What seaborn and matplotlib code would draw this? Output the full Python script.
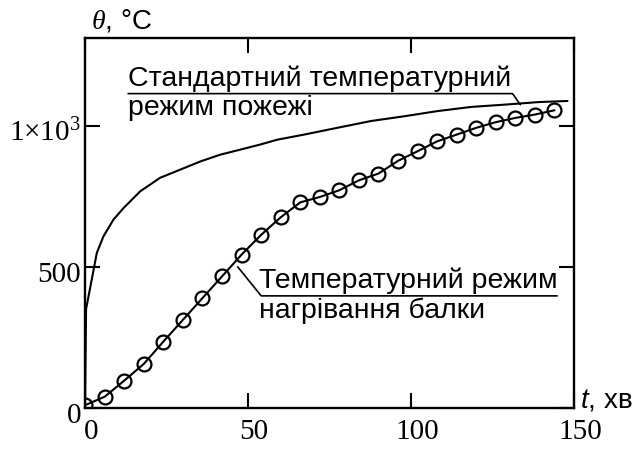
import numpy as np
import pandas as pd
import matplotlib
matplotlib.use("Agg")
import matplotlib.pyplot as plt
import matplotlib.transforms as mtransforms
import seaborn as sns

# standard fire curve
t_std = [0, 0.3, 3.6, 5.6, 8.7, 11.8, 16.9, 23, 29.2, 35.4, 41.5, 47.7,
         53.8, 59, 67.2, 77.4, 87.7, 98, 108, 118.5, 128.7, 139, 148]
theta_std = [20, 350, 549, 607, 667, 708, 767, 815, 844, 873, 897, 915,
             933, 950, 968, 992, 1016, 1033, 1051, 1066, 1074, 1083, 1087]

# beam heating curve (circles)
t_beam = [0, 6, 12, 18, 24, 30, 36, 42, 48, 54, 60, 66, 72, 78, 84, 90,
          96, 102, 108, 114, 120, 126, 132, 138, 144]
theta_beam = [10, 40, 97, 156, 235, 312, 389, 466, 543, 613, 675, 728, 747,
              771, 806, 830, 875, 909, 944, 968, 992, 1012, 1027, 1039, 1054]

x_ticks = [0, 50, 100, 150]
y_ticks = [0, 500, 1000]
y_ticklabels = ["0", "500", "1×10$^3$"]

label_std = "Стандартний температурний\nрежим пожежі"
label_beam = "Температурний режим\nнагрівання балки"

sns.set_theme(style="ticks")
plt.rcParams["font.family"] = ["Liberation Sans", "DejaVu Sans"]
plt.rcParams["text.color"] = "black"
plt.rcParams["mathtext.fontset"] = "custom"
plt.rcParams["mathtext.rm"] = "Liberation Serif"
plt.rcParams["mathtext.it"] = "Liberation Serif:italic"
plt.rcParams["mathtext.sf"] = "Liberation Sans:italic"

df_std = pd.DataFrame({"t": t_std, "theta": theta_std})
df_beam = pd.DataFrame({"t": t_beam, "theta": theta_beam})

fig = plt.figure(figsize=(6.35, 4.5), dpi=100)
ax = fig.add_axes([0.134, 0.0933, 0.770, 0.8223])

sns.lineplot(data=df_std, x="t", y="theta", ax=ax, color="black", lw=1.5,
             estimator=None, sort=False)
sns.lineplot(data=df_beam, x="t", y="theta", ax=ax, color="black", lw=1.5,
             marker="o", markersize=10, markerfacecolor="none",
             markeredgecolor="black", markeredgewidth=1.6,
             estimator=None, sort=False)

ax.set_xlim(0, 150)
ax.set_ylim(0, 1310)
ax.set_xlabel("")
ax.set_ylabel("")

ax.set_xticks(x_ticks)
ax.set_xticklabels([str(v) for v in x_ticks], fontfamily="Liberation Serif", fontsize=21)
ax.set_yticks(y_ticks)
ax.set_yticklabels(y_ticklabels, fontfamily="Liberation Serif", fontsize=21)
ax.tick_params(direction="in", length=11, width=1.5, top=True, right=True,
               color="black", labelcolor="black")
ax.tick_params(axis="x", pad=8)
ax.tick_params(axis="y", pad=3)

# nudge tick labels like in the original
for lab in ax.get_xticklabels():
    lab.set_transform(lab.get_transform() +
                      mtransforms.ScaledTranslation(6 / 100, 0, fig.dpi_scale_trans))
for lab in ax.get_yticklabels():
    lab.set_transform(lab.get_transform() +
                      mtransforms.ScaledTranslation(0, -5 / 100, fig.dpi_scale_trans))

for sp in ax.spines.values():
    sp.set_linewidth(1.7)
    sp.set_color("black")

# axis titles
ax.text(0.012, 1.045, r"$\theta$, °C", transform=ax.transAxes, fontsize=20,
        ha="left", va="center", color="black")
ax.text(1.013, 0.02, r"$\mathsf{t}$, хв", transform=ax.transAxes, fontsize=20,
        ha="left", va="center", color="black")

# callouts
ax.annotate(label_std, xy=(133.5, 1074), xytext=(13.2, 1113), textcoords="data",
            fontsize=20.5, ha="left", va="center", linespacing=1.15, color="black",
            arrowprops=dict(arrowstyle="-", color="black", lw=1.2, patchA=None,
                            shrinkA=0, shrinkB=0, relpos=(0, 0.5),
                            connectionstyle="angle,angleA=0,angleB=125,rad=0"))
ax.annotate(label_beam, xy=(46.8, 500), xytext=(53.2, 397), textcoords="data",
            fontsize=20.5, ha="left", va="center", linespacing=1.15, color="black",
            arrowprops=dict(arrowstyle="-", color="black", lw=1.2, patchA=None,
                            shrinkA=0, shrinkB=0, relpos=(1, 0.5),
                            connectionstyle="angle,angleA=0,angleB=-51,rad=0"))

fig.savefig("out.png", dpi=100, facecolor="white")
